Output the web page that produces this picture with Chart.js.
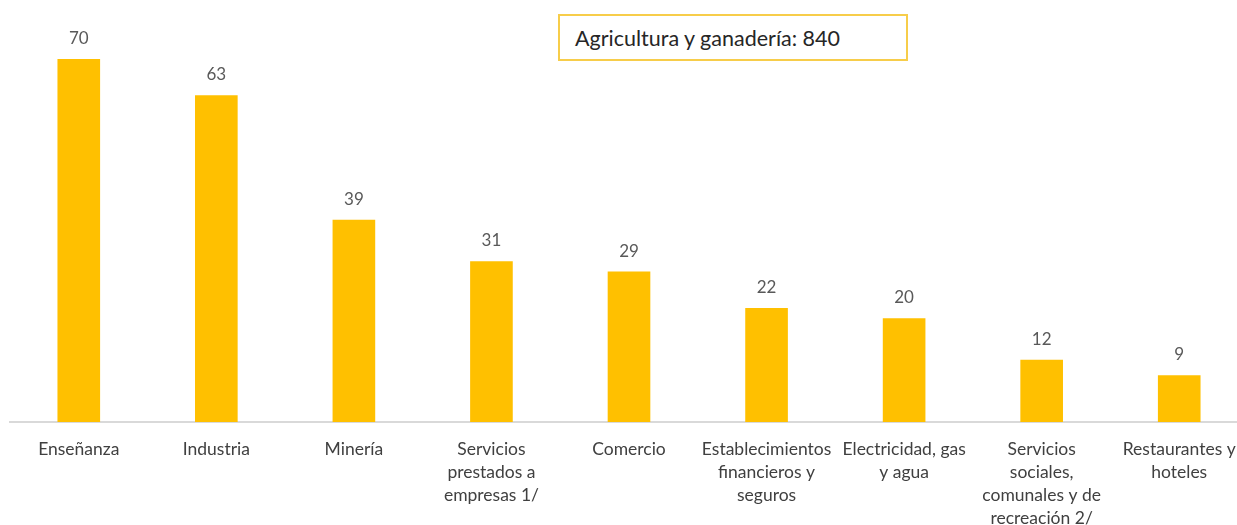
<!DOCTYPE html>
<html>
<head>
<meta charset="utf-8">
<script src="https://cdn.jsdelivr.net/npm/chart.js@4"></script>
<style>
  html, body { margin: 0; padding: 0; background: #fff; overflow: hidden; }
  #wrap { position: relative; width: 1237px; height: 525px; overflow: hidden; }
  #note {
    position: absolute; left: 558px; top: 14px; width: 346px; height: 43px;
    border: 2px solid #f7cd4a; box-sizing: content-box;
    font-family: Lato, "Open Sans", sans-serif; font-size: 21.5px; color: #262626;
    line-height: 45px; text-indent: 15px; background: #fff; white-space: nowrap;
  }
</style>
</head>
<body>
<div id="wrap">
  <canvas id="myChart" width="1248" height="525"></canvas>
  <div id="note"></div>
</div>
<script>
const categories = [
  "Enseñanza",
  "Industria",
  "Minería",
  ["Servicios", "prestados a", "empresas 1/"],
  "Comercio",
  ["Establecimientos", "financieros y", "seguros"],
  ["Electricidad, gas", "y agua"],
  ["Servicios", "sociales,", "comunales y de", "recreación 2/"],
  ["Restaurantes y", "hoteles"]
];
const values = [70, 63, 39, 31, 29, 22, 20, 12, 9];
const noteLabel = "Agricultura y ganadería";
const noteValue = 840;

document.getElementById('note').textContent = noteLabel + ": " + noteValue;

// value labels above each bar
const valueLabels = {
  id: 'valueLabels',
  afterDatasetsDraw(chart) {
    const c = chart.ctx;
    const meta = chart.getDatasetMeta(0);
    c.save();
    c.font = '17px Lato, "Open Sans", sans-serif';
    c.fillStyle = '#595959';
    c.textAlign = 'center';
    c.textBaseline = 'bottom';
    meta.data.forEach(function(bar, i) {
      c.fillText(values[i], bar.x, bar.y - 12);
    });
    c.restore();
  }
};

const ctx = document.getElementById("myChart").getContext('2d');
const myChart = new Chart(ctx, {
  type: 'bar',
  data: {
    labels: categories,
    datasets: [{
      data: values,
      backgroundColor: '#ffc000',
      barPercentage: 0.31,
      categoryPercentage: 1
    }]
  },
  options: {
    responsive: false,
    animation: false,
    layout: { padding: { left: 10, right: 0, top: 7, bottom: 0 } },
    plugins: { legend: { display: false }, tooltip: { enabled: false } },
    scales: {
      x: {
        grid: { display: false },
        border: { display: true, color: '#d9d9d9', width: 2 },
        ticks: {
          color: '#404040',
          font: { family: 'Lato, "Open Sans", sans-serif', size: 17.5, lineHeight: 1.32 },
          maxRotation: 0, minRotation: 0, autoSkip: false, padding: 8
        },
        afterFit(scale) { scale.height = 103; }
      },
      y: {
        display: false,
        min: 0, max: 80
      }
    }
  },
  plugins: [valueLabels]
});
</script>
</body>
</html>
